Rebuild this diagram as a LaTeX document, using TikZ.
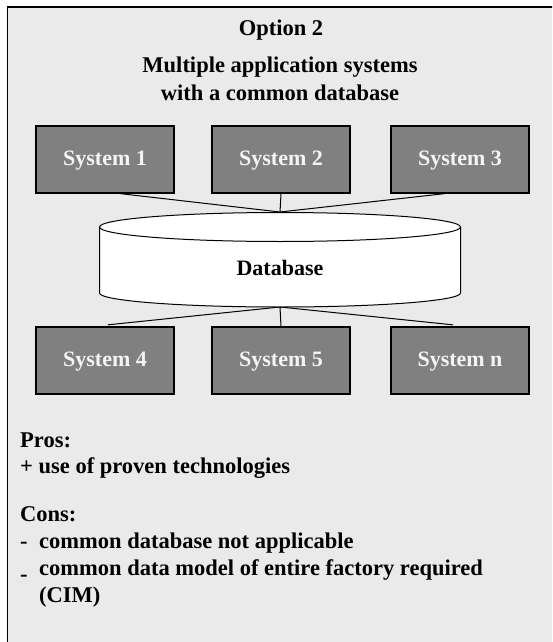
\documentclass[tikz,border=0pt]{standalone}
\usepackage{fontspec}
\setmainfont{Liberation Serif}
\usetikzlibrary{calc}
\definecolor{panelgray}{HTML}{EAEAEA}
\definecolor{boxgray}{HTML}{808080}
\definecolor{boxtext}{HTML}{F4F4F4}
\tikzset{
  sysbox/.style={draw=black, line width=1.3pt, fill=boxgray, text=boxtext,
    minimum width=138pt, minimum height=67pt, inner sep=0pt,
    font=\fontsize{22}{26}\selectfont\bfseries,
    text height=15pt, text depth=4pt},
  link/.style={draw=black, line width=1pt},
  heading/.style={font=\fontsize{22.5}{27}\selectfont\bfseries, align=center, inner sep=0pt},
  listtext/.style={font=\fontsize{22.5}{27}\selectfont\bfseries, anchor=base west, inner sep=0pt},
}
\begin{document}
\begin{tikzpicture}[x=1pt, y=-1pt]
  \useasboundingbox (0,0) rectangle (552,642);
  \clip (0,0) rectangle (552,642);

  % panel
  \draw[line width=1.6pt, fill=panelgray] (7.5,7) rectangle (600,700);

  % headings
  \node[heading, anchor=base] (title) at (281,36) {Option 2};
  \node[heading, anchor=base] (sub1) at (280,73) {Multiple application systems};
  \node[heading, anchor=base] (sub2) at (280,100) {with a common database};

  % application systems
  \node[sysbox] (s1) at (105,159.5) {System 1};
  \node[sysbox] (s2) at (281,159.5) {System 2};
  \node[sysbox] (s3) at (460,159.5) {System 3};
  \node[sysbox] (s4) at (105,360.5) {System 4};
  \node[sysbox] (s5) at (281,360.5) {System 5};
  \node[sysbox] (sn) at (460,360.5) {System n};

  % database cylinder (y axis points down, so the radii are negated)
  \coordinate (dbtop) at (280,212);
  \coordinate (dbbot) at (280,307);
  \filldraw[fill=white, draw=black, line width=1pt]
    (99.5,227) -- (99.5,293) arc[start angle=180, end angle=360, x radius=180.5, y radius=-14]
    -- (460.5,227) arc[start angle=0, end angle=180, x radius=180.5, y radius=-14.5] -- cycle;
  \draw[line width=1pt] (99.5,227) arc[start angle=180, end angle=360, x radius=180.5, y radius=-14.5];
  \node[font=\fontsize{22}{26}\selectfont\bfseries, anchor=base, inner sep=0pt] (db) at (280,275) {Database};

  % connectors
  \draw[link] ($(s1.south west)!0.61!(s1.south east)$) -- (dbtop);
  \draw[link] (s2.south) -- (dbtop);
  \draw[link] ($(s3.south west)!0.39!(s3.south east)$) -- (dbtop);
  \draw[link] (dbbot) -- ($(s4.north west)!0.52!(s4.north east)+(0,-1.5)$);
  \draw[link] (dbbot) -- (s5.north);
  \draw[link] (dbbot) -- ($(sn.north west)!0.45!(sn.north east)+(0,-1.5)$);

  % pros and cons
  \node[listtext] (pros) at (20,447) {Pros:};
  \node[listtext] (pro1) at (20,473) {+ use of proven technologies};
  \node[listtext] (cons) at (20,521) {Cons:};
  \node[listtext] (dash1) at (20,548) {-};
  \node[listtext] (con1) at (39,548) {common database not applicable};
  \node[listtext] (dash2) at (20,581) {-};
  \node[listtext] (con2) at (39,575) {common data model of entire factory required};
  \node[listtext] (con3) at (39,602) {(CIM)};
\end{tikzpicture}
\end{document}
